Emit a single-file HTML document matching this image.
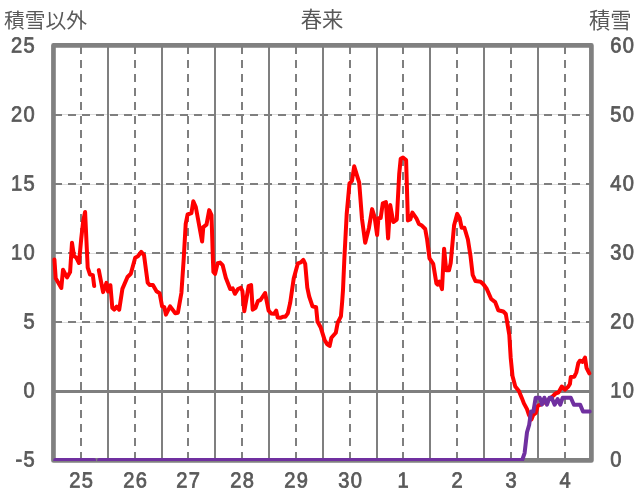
<!DOCTYPE html>
<html lang="ja"><head><meta charset="utf-8"><title>春来</title>
<style>html,body{margin:0;padding:0;background:#fff}body{width:636px;height:501px;overflow:hidden}svg{display:block;will-change:transform}text{font-family:"Liberation Sans",sans-serif;fill:#595959}</style>
</head><body>
<svg role="img" aria-label="春来 積雪以外 積雪" width="636" height="501" viewBox="0 0 636 501">
<rect x="0" y="0" width="636" height="501" fill="#ffffff"/>
<g stroke="#dcdcdc" stroke-width="1" fill="none" shape-rendering="crispEdges">
<line x1="54" y1="322.5" x2="591" y2="322.5"/>
<line x1="54" y1="253.5" x2="591" y2="253.5"/>
<line x1="54" y1="184.5" x2="591" y2="184.5"/>
<line x1="54" y1="114.5" x2="591" y2="114.5"/>
</g>
<g stroke="#7f7f7f" stroke-width="2" fill="none" stroke-dasharray="8 6" shape-rendering="crispEdges">
<line x1="54" y1="322" x2="591" y2="322"/>
<line x1="54" y1="253" x2="591" y2="253"/>
<line x1="54" y1="184" x2="591" y2="184"/>
<line x1="54" y1="115" x2="591" y2="115"/>
<line x1="81" y1="46" x2="81" y2="460"/>
<line x1="135" y1="46" x2="135" y2="460"/>
<line x1="188" y1="46" x2="188" y2="460"/>
<line x1="242" y1="46" x2="242" y2="460"/>
<line x1="296" y1="46" x2="296" y2="460"/>
<line x1="350" y1="46" x2="350" y2="460"/>
<line x1="403" y1="46" x2="403" y2="460"/>
<line x1="457" y1="46" x2="457" y2="460"/>
<line x1="511" y1="46" x2="511" y2="460"/>
<line x1="565" y1="46" x2="565" y2="460"/>
</g>
<g stroke="#7f7f7f" stroke-width="2" fill="none" shape-rendering="crispEdges">
<line x1="108" y1="46" x2="108" y2="460"/>
<line x1="162" y1="46" x2="162" y2="460"/>
<line x1="215" y1="46" x2="215" y2="460"/>
<line x1="269" y1="46" x2="269" y2="460"/>
<line x1="323" y1="46" x2="323" y2="460"/>
<line x1="377" y1="46" x2="377" y2="460"/>
<line x1="430" y1="46" x2="430" y2="460"/>
<line x1="484" y1="46" x2="484" y2="460"/>
<line x1="538" y1="46" x2="538" y2="460"/>
<line x1="54" y1="391.5" x2="591" y2="391.5" stroke-width="3"/>
</g>
<rect x="53.45" y="45.4" width="537.95" height="415.00" fill="none" stroke="#808080" stroke-width="4.7" stroke-linejoin="round"/>
<g fill="none" stroke="#ff0000" stroke-width="4" stroke-linejoin="round" stroke-linecap="round">
<polyline points="54.4,259.4 55.7,278.3 61.3,288.0 63.0,269.8 67.0,277.4 70.1,272.0 72.0,242.7 74.0,256.3 76.3,257.5 79.0,263.0 81.2,239.0 83.2,221.0 85.1,212.0 87.7,267.6 90.0,274.5 92.8,275.1 94.2,286.0"/>
<polyline points="98.8,270.1 103.1,292.1 106.4,282.9 108.1,291.5 110.4,285.2 112.3,307.8 114.2,309.7 116.7,306.6 119.2,309.7 122.4,288.9 127.5,277.0 130.8,273.8 135.2,257.8 137.9,256.3 141.2,251.9 144.0,255.0 147.7,282.7 149.6,284.9 152.9,285.0 156.5,291.3 159.6,293.2 162.1,306.4 164.3,307.1 165.9,314.6 170.1,306.4 175.3,313.3 177.9,312.7 181.4,293.0 183.6,260.7 185.7,223.9 187.6,214.5 191.4,213.2 193.3,201.3 195.8,207.0 202.1,241.5 203.3,227.1 206.5,224.6 209.2,210.1 211.5,215.1 213.0,262.0 213.4,272.0 215.1,273.9 217.6,263.2 220.1,262.6 222.6,265.1 225.8,277.7 230.2,289.0 232.7,288.4 234.9,293.8 238.0,289.0 240.8,287.7 242.4,291.0 244.3,311.2 248.6,286.1 251.1,285.0 252.7,309.7 255.5,307.8 258.0,300.8 260.5,300.0 265.1,293.0 268.6,310.6 271.2,313.5 274.0,313.8 276.2,310.7 277.7,317.5 280.3,317.8 282.8,316.8 285.3,316.8 287.8,313.4 290.2,302.8 293.7,278.6 297.9,263.3 300.8,262.4 303.3,259.9 305.2,263.9 307.3,287.6 309.2,296.5 312.5,306.4 316.1,307.3 317.5,321.5 320.6,327.2 324.5,339.7 327.0,344.1 329.6,346.0 331.4,337.8 335.8,332.8 337.7,322.7 340.9,316.4 342.1,302.6 343.0,290.0 344.4,257.9 346.7,214.0 349.5,183.3 352.0,180.8 354.2,166.3 359.2,182.7 362.0,219.0 365.2,242.8 369.0,227.7 372.1,209.1 374.6,217.0 377.1,235.0 378.4,218.3 380.7,218.0 382.8,203.3 385.9,202.0 388.1,238.4 390.2,204.9 393.3,222.0 396.8,219.5 399.2,174.0 400.7,158.8 403.0,157.5 406.1,160.0 407.9,220.4 410.3,219.5 412.4,212.6 416.4,218.3 418.9,223.9 421.4,225.2 425.2,229.0 427.0,238.8 429.5,258.4 433.2,263.9 436.4,283.4 437.6,284.7 439.5,281.5 442.0,289.1 444.1,248.7 446.2,270.2 449.0,270.2 450.7,263.0 454.1,225.2 457.2,213.9 459.7,218.3 461.6,227.7 464.4,227.7 467.9,239.5 470.5,256.0 472.7,275.0 475.5,281.1 480.6,281.7 483.6,284.5 486.8,289.0 491.2,299.0 495.2,302.1 498.3,310.3 503.3,311.5 505.8,314.0 509.3,335.0 510.7,357.7 512.5,376.0 515.3,386.5 518.9,390.9 522.0,398.4 523.9,403.4 527.0,409.1 528.9,414.8 531.4,419.6 533.3,414.8 535.8,412.9 537.7,406.0 541.0,404.2 546.0,401.6 550.5,398.0 553.3,395.8 555.9,393.3 558.4,392.6 561.8,386.5 564.9,389.6 568.2,386.8 569.9,384.0 570.8,377.0 574.3,376.7 576.3,372.5 578.3,363.1 579.8,360.7 582.6,361.9 585.0,357.6 586.5,367.8 589.3,373.3"/>
</g>
<defs><clipPath id="pc"><rect x="40" y="40" width="560" height="421"/></clipPath></defs>
<g fill="none" stroke="#7030a0" stroke-width="4" stroke-linejoin="round" stroke-linecap="round" clip-path="url(#pc)">
<polyline points="55.2,460.0 94.1,460.0"/>
<polyline points="99.1,460.0 522.2,460.0 524.6,453.1 527.0,432.3 529.2,424.7 531.0,411.6 533.4,411.6 535.7,397.7 539.8,397.7 541.9,404.7 544.4,397.7 547.0,404.7 549.5,397.7 551.7,397.7 554.6,404.7 557.6,399.1 560.3,404.7 562.7,397.7 570.8,397.7 573.9,404.7 580.2,404.7 583.0,411.6 589.7,411.6"/>
</g>
<g font-size="20.1" stroke="#595959" stroke-width="0.7" letter-spacing="1.2" style="text-rendering:geometricPrecision">
<text transform="translate(35.80 52.60) rotate(0.03) scale(1 1.085)" text-anchor="end">25</text>
<text transform="translate(35.80 121.60) rotate(0.03) scale(1 1.085)" text-anchor="end">20</text>
<text transform="translate(35.80 190.60) rotate(0.03) scale(1 1.085)" text-anchor="end">15</text>
<text transform="translate(35.80 259.60) rotate(0.03) scale(1 1.085)" text-anchor="end">10</text>
<text transform="translate(35.80 328.60) rotate(0.03) scale(1 1.085)" text-anchor="end">5</text>
<text transform="translate(35.80 397.60) rotate(0.03) scale(1 1.085)" text-anchor="end">0</text>
<text transform="translate(35.80 466.60) rotate(0.03) scale(1 1.085)" text-anchor="end">-5</text>
<text transform="translate(610.35 52.60) rotate(0.03) scale(1 1.085)" text-anchor="start">60</text>
<text transform="translate(610.35 121.60) rotate(0.03) scale(1 1.085)" text-anchor="start">50</text>
<text transform="translate(610.35 190.60) rotate(0.03) scale(1 1.085)" text-anchor="start">40</text>
<text transform="translate(610.35 259.60) rotate(0.03) scale(1 1.085)" text-anchor="start">30</text>
<text transform="translate(610.35 328.60) rotate(0.03) scale(1 1.085)" text-anchor="start">20</text>
<text transform="translate(610.35 397.60) rotate(0.03) scale(1 1.085)" text-anchor="start">10</text>
<text transform="translate(610.35 466.60) rotate(0.03) scale(1 1.085)" text-anchor="start">0</text>
<text transform="translate(81.65 487.60) rotate(0.03) scale(1 1.085)" text-anchor="middle">25</text>
<text transform="translate(135.65 487.60) rotate(0.03) scale(1 1.085)" text-anchor="middle">26</text>
<text transform="translate(188.65 487.60) rotate(0.03) scale(1 1.085)" text-anchor="middle">27</text>
<text transform="translate(242.65 487.60) rotate(0.03) scale(1 1.085)" text-anchor="middle">28</text>
<text transform="translate(296.65 487.60) rotate(0.03) scale(1 1.085)" text-anchor="middle">29</text>
<text transform="translate(350.65 487.60) rotate(0.03) scale(1 1.085)" text-anchor="middle">30</text>
<text transform="translate(403.65 487.60) rotate(0.03) scale(1 1.085)" text-anchor="middle">1</text>
<text transform="translate(457.65 487.60) rotate(0.03) scale(1 1.085)" text-anchor="middle">2</text>
<text transform="translate(511.65 487.60) rotate(0.03) scale(1 1.085)" text-anchor="middle">3</text>
<text transform="translate(565.65 487.60) rotate(0.03) scale(1 1.085)" text-anchor="middle">4</text>
</g>
<text x="4" y="28.2" font-size="20.75" fill="#595959" text-anchor="start" style="font-family:'Liberation Sans','Noto Sans CJK JP',sans-serif">積雪以外</text>
<text x="322.1" y="27.4" font-size="21.3" fill="#595959" text-anchor="middle" style="font-family:'Liberation Sans','Noto Sans CJK JP',sans-serif">春来</text>
<text x="589" y="28.2" font-size="21.3" fill="#595959" text-anchor="start" style="font-family:'Liberation Sans','Noto Sans CJK JP',sans-serif">積雪</text>
</svg></body></html>
